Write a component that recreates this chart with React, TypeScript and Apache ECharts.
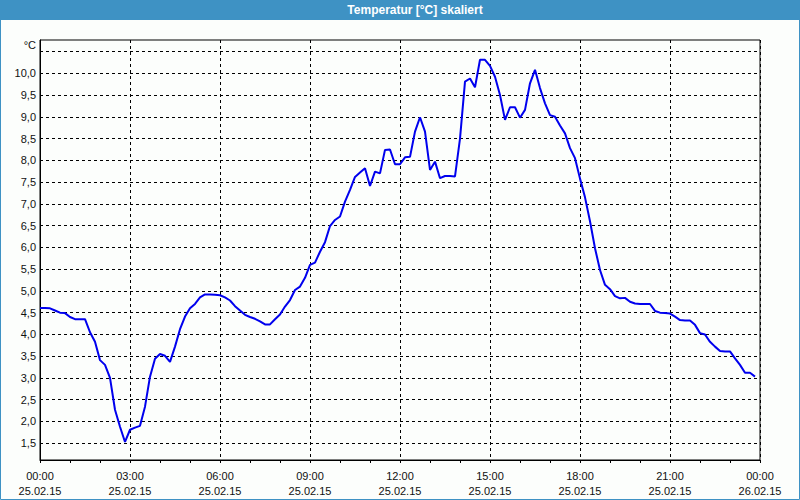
import React, { useEffect, useRef } from "react";
import * as echarts from "echarts";

const titleText = "Temperatur [°C] skaliert";
const unitLabel = "°C";

// 10-minute samples starting 25.02.15 00:00
const stepMinutes = 10;
const temperatures = [
  4.61, 4.61, 4.6, 4.55, 4.5, 4.49, 4.4, 4.35, 4.35, 4.35,
  4.05, 3.83, 3.41, 3.3, 3.0, 2.27, 1.88, 1.53, 1.81, 1.86,
  1.9, 2.34, 3.03, 3.44, 3.55, 3.51, 3.37, 3.72, 4.12, 4.41,
  4.6, 4.7, 4.85, 4.92, 4.92, 4.91, 4.9, 4.85, 4.78, 4.65,
  4.55, 4.45, 4.4, 4.36, 4.3, 4.23, 4.23, 4.35, 4.46, 4.64,
  4.79, 5.02, 5.1, 5.3, 5.6, 5.65, 5.9, 6.12, 6.49, 6.63,
  6.71, 7.05, 7.32, 7.62, 7.72, 7.82, 7.41, 7.74, 7.7, 8.24,
  8.25, 7.91, 7.91, 8.07, 8.08, 8.66, 8.99, 8.66, 7.78, 7.97,
  7.59, 7.64, 7.64, 7.63, 8.5, 9.81, 9.88, 9.68, 10.31, 10.31,
  10.17, 9.92, 9.5, 8.93, 9.22, 9.22, 8.98, 9.16, 9.77, 10.08,
  9.66, 9.31, 9.04, 9.0, 8.8, 8.62, 8.28, 8.05, 7.58, 7.15,
  6.6, 5.98, 5.48, 5.14, 5.04, 4.88, 4.83, 4.84, 4.75, 4.71,
  4.7, 4.7, 4.7, 4.54, 4.5, 4.49, 4.48, 4.41, 4.33, 4.32,
  4.32, 4.22, 4.03, 4.0, 3.83, 3.72, 3.62, 3.61, 3.61, 3.45,
  3.3, 3.12, 3.12, 3.03,
];

const xTickTimes = ["00:00", "03:00", "06:00", "09:00", "12:00", "15:00", "18:00", "21:00", "00:00"];
const xTickDates = ["25.02.15", "25.02.15", "25.02.15", "25.02.15", "25.02.15", "25.02.15", "25.02.15", "25.02.15", "26.02.15"];

const yGridValues = [1.5, 2.0, 2.5, 3.0, 3.5, 4.0, 4.5, 5.0, 5.5, 6.0, 6.5, 7.0, 7.5, 8.0, 8.5, 9.0, 9.5, 10.0, 10.5];
const yLabelValues = [1.5, 2.0, 2.5, 3.0, 3.5, 4.0, 4.5, 5.0, 5.5, 6.0, 6.5, 7.0, 7.5, 8.0, 8.5, 9.0, 9.5, 10.0];
const yMin = 1.115;
const yMax = 10.765;

const BLUE = "#3e92c4";
const FONT = "Liberation Sans";

export default function App() {
  const ref = useRef<HTMLDivElement>(null);

  useEffect(() => {
    if (!ref.current) return;
    const chart = echarts.init(ref.current, null, { renderer: "svg" });
    const data = temperatures.map((v, i) => [(i * stepMinutes) / 60, v]);
    chart.setOption({
      animation: false,
      backgroundColor: "#fcfefc",
      textStyle: { fontFamily: FONT },
      grid: {
        left: 40,
        right: 40,
        top: 40,
        bottom: 40,
        show: true,
        borderColor: "#000",
        borderWidth: 1,
        backgroundColor: "#fcfefc",
      },
      graphic: [
        { type: "rect", shape: { x: 0, y: 0, width: 800, height: 20 }, style: { fill: BLUE }, z: 10 },
        {
          type: "rect",
          shape: { x: 0.5, y: 0.5, width: 799, height: 499 },
          style: { fill: "none", stroke: BLUE, lineWidth: 1 },
          z: 10,
        },
        {
          type: "text",
          x: 415,
          y: 10,
          z: 11,
          style: {
            text: titleText,
            fill: "#ffffff",
            font: `bold 12px "${FONT}"`,
            align: "center",
            verticalAlign: "middle",
          },
        },
        {
          type: "text",
          x: 36,
          y: 45,
          z: 11,
          style: {
            text: unitLabel,
            fill: "#111",
            font: `11px "${FONT}"`,
            align: "right",
            verticalAlign: "middle",
          },
        },
      ],
      xAxis: {
        type: "value",
        min: 0,
        max: 24,
        interval: 3,
        axisLine: { show: true, lineStyle: { color: "#000", width: 1 } },
        axisTick: { show: true, length: 3, lineStyle: { color: "#000" } },
        minorTick: { show: true, splitNumber: 3, length: 3, lineStyle: { color: "#000" } },
        splitLine: { show: true, lineStyle: { color: "#000", type: [3, 3], width: 1 } },
        axisLabel: {
          color: "#111",
          fontFamily: FONT,
          fontSize: 11,
          lineHeight: 15,
          margin: 8,
          formatter: (v: number) => {
            const idx = Math.round(v / 3);
            return `${xTickTimes[idx]}\n${xTickDates[idx]}`;
          },
        },
      },
      yAxis: {
        type: "value",
        min: yMin,
        max: yMax,
        axisLine: { show: true, lineStyle: { color: "#000", width: 1 } },
        axisTick: { show: false, customValues: yGridValues },
        splitLine: { show: true, lineStyle: { color: "#000", type: [3, 3], width: 1 } },
        axisLabel: {
          customValues: yLabelValues,
          color: "#111",
          fontFamily: FONT,
          fontSize: 11,
          margin: 4,
          formatter: (v: number) => v.toFixed(1).replace(".", ","),
        },
      },
      series: [
        {
          type: "line",
          data,
          showSymbol: false,
          symbol: "none",
          lineStyle: { color: "#0000ee", width: 2 },
          z: 5,
        },
      ],
    });
    return () => chart.dispose();
  }, []);

  return (
    <div style={{ position: "absolute", left: 0, top: 0, width: 800, height: 500 }}>
      <div ref={ref} style={{ width: 800, height: 500 }} />
    </div>
  );
}
